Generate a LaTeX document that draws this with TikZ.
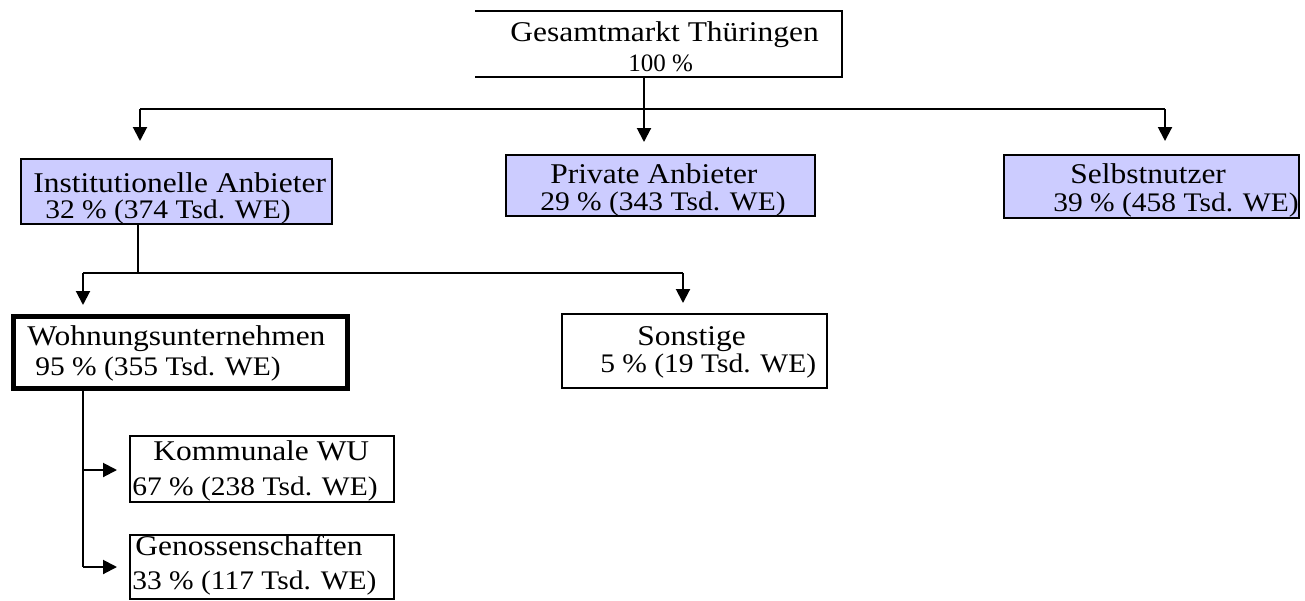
\documentclass[tikz,border=0pt]{standalone}
\usepackage{fontspec}
\setmainfont{Liberation Serif}[FakeStretch=1.1]
\newfontfamily\plainserif{Liberation Serif}
\usetikzlibrary{arrows.meta,fit}
\definecolor{boxblue}{RGB}{204,204,255}
\begin{document}
\begin{tikzpicture}[x=0.5pt,y=-0.5pt,
  box/.style={draw=black, line width=1pt, inner sep=0pt, outer sep=0pt},
  bluebox/.style={box, fill=boxblue},
  thickbox/.style={box, line width=2.5pt},
  tone/.style={inner sep=0pt, anchor=base west, font=\fontsize{14.3}{16}\selectfont},
  ttwo/.style={inner sep=0pt, anchor=base west, font=\fontsize{13.4}{15}\selectfont},
  conn/.style={line width=1pt},
  arr/.style={line width=1pt, -{Triangle[width=7pt,length=7pt]}}]
\useasboundingbox (0,0) rectangle (1305,600);
% boxes
\node[fit={(475,11) (842,77)}, inner sep=0pt, outer sep=0pt] (top) {};
\draw[conn] (top.north west) -- (top.north east) -- (top.south east) -- (top.south west);
\node[bluebox, fit={(21,159) (332,224)}] (inst) {};
\node[bluebox, fit={(506,155) (815,216)}] (priv) {};
\node[bluebox, fit={(1004,155) (1299,218)}] (selb) {};
\node[thickbox, fit={(13,316) (347,388)}] (wohn) {};
\node[box, fit={(562,314) (827,388)}] (sons) {};
\node[box, fit={(130,436) (394,502)}] (komm) {};
\node[box, fit={(130,535) (394,599)}] (geno) {};
% texts
\node[tone] (topA) at (510,41) {Gesamtmarkt Thüringen};
\node[inner sep=0pt, anchor=base west, font=\plainserif\fontsize{12.5}{14}\selectfont] (topB) at (628,71) {100 \%};
\node[tone] (instA) at (33,192) {Institutionelle Anbieter};
\node[ttwo] (instB) at (45,218) {32 \% (374 Tsd. WE)};
\node[tone] (privA) at (550,183) {Private Anbieter};
\node[ttwo] (privB) at (540,210) {29 \% (343 Tsd. WE)};
\node[tone] (selbA) at (1070,183) {Selbstnutzer};
\node[ttwo] (selbB) at (1053,211) {39 \% (458 Tsd. WE)};
\node[tone] (wohnA) at (27,345) {Wohnungsunternehmen};
\node[ttwo] (wohnB) at (35,375) {95 \% (355 Tsd. WE)};
\node[tone] (sonsA) at (637,345) {Sonstige};
\node[ttwo] (sonsB) at (600,372) {5 \% (19 Tsd. WE)};
\node[tone] (kommA) at (153,460) {Kommunale WU};
\node[ttwo] (kommB) at (132,495) {67 \% (238 Tsd. WE)};
\node[tone] (genoA) at (135,555) {Genossenschaften};
\node[ttwo] (genoB) at (132,589) {33 \% (117 Tsd. WE)};
% junctions
\coordinate (j0) at (644,109);
\coordinate (jl) at (140,109);
\coordinate (jr) at (1165,109);
\coordinate (tl) at (140,141);
\coordinate (tm) at (644,142);
\coordinate (tr) at (1165,141);
\coordinate (k0) at (138,273);
\coordinate (kl) at (83,273);
\coordinate (kr) at (683,273);
\coordinate (ul) at (83,305);
\coordinate (ur) at (683,303);
\coordinate (w1) at (83,470);
\coordinate (w2) at (83,567);
\coordinate (v1) at (117,470);
\coordinate (v2) at (117,567);
% connectors
\draw[conn] (j0 |- top.south) -- (j0);
\draw[conn] (jl) -- (jr);
\draw[arr] (jl) -- (tl);
\draw[arr] (j0) -- (tm);
\draw[arr] (jr) -- (tr);
\draw[conn] (k0 |- inst.south) -- (k0);
\draw[conn] (kl) -- (kr);
\draw[arr] (kl) -- (ul);
\draw[arr] (kr) -- (ur);
\draw[conn] (w1 |- wohn.south) -- (w2);
\draw[arr] (w1) -- (v1);
\draw[arr] (w2) -- (v2);
\end{tikzpicture}
\end{document}
